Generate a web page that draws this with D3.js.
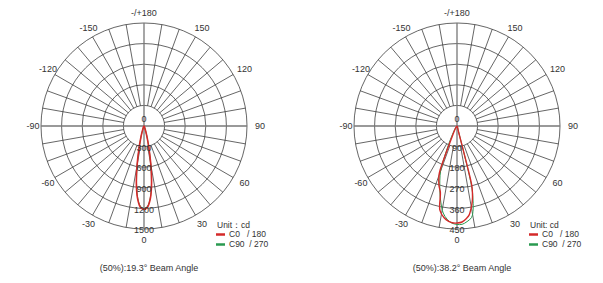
<!DOCTYPE html>
<html>
<head>
<meta charset="utf-8">
<script src="https://cdn.jsdelivr.net/npm/d3@7"></script>
<style>
  body { margin: 0; background: #fff; }
  text { font-family: Arial, "Liberation Sans", sans-serif; fill: #333; white-space: pre; }
</style>
</head>
<body>
<div id="chart"></div>
<script>

// angle ticks (deg), 0 at bottom, 90 on the right
var angleTicks = [0, 30, 60, 90, 120, 150, 180, -150, -120, -90, -60, -30];

// left diagram
var ringsLeft = [300, 600, 900, 1200, 1500];
var gammaLeft = [-90, -50, -40, -30, -25, -20, -17.5, -15, -12.5, -10, -7.5, -5, -2.5, 0, 2.5, 5, 7.5, 10, 12.5, 15, 17.5, 20, 25, 30, 40, 50, 90];
var leftC0   = [0, 2, 5, 12, 25, 55, 100, 185, 340, 580, 850, 1065, 1185, 1215, 1180, 1060, 845, 575, 335, 180, 95, 50, 22, 10, 4, 2, 0];
var leftC90  = [0, 2, 5, 11, 23, 52, 95, 180, 330, 570, 835, 1050, 1170, 1205, 1170, 1050, 835, 570, 330, 178, 95, 50, 20, 9, 4, 2, 0];
var beamLeft = "(50%):19.3° Beam Angle";

// right diagram
var ringsRight = [90, 180, 270, 360, 450];
var gammaRightC0 = [-90, -40, -30, -24, -22, -21, -20, -17, -14, -11.5, -8, -5, -2, 0, 3, 6, 7.7, 10, 11.7, 13, 14, 14.5, 15, 20, 30, 40, 90];
var rightC0      = [0, 5, 20, 60, 130, 205, 230, 270, 300, 375, 405, 418, 424, 424, 420, 405, 393, 360, 331, 300, 265, 100, 20, 8, 3, 1, 0];
var gammaRightC90 = [-90, -40, -30, -25, -22, -20, -15, -12, -9, -6, -3, 0, 3, 6, 9, 11, 12.5, 13.5, 14.3, 15, 20, 30, 40, 90];
var rightC90      = [0, 8, 30, 80, 150, 210, 290, 340, 385, 410, 425, 430, 430, 420, 405, 370, 320, 280, 150, 40, 10, 4, 1, 0];
var beamRight = "(50%):38.2° Beam Angle";

var width = 603, height = 283;
var R = 103, cy = 126;

var svg = d3.select("#chart").append("svg")
    .attr("width", width)
    .attr("height", height);

// d3 radial angle is clockwise from 12 o'clock, ours has 0 at 6 o'clock
var angle = d3.scaleLinear().domain([-180, 180]).range([2 * Math.PI, 0]);

function drawPolar(cx, rings, series, beamText, legendX, unitText) {

    var radius = d3.scaleLinear()
        .domain([0, rings[rings.length - 1]])
        .range([0, R]);

    var g = svg.append("g")
        .attr("transform", "translate(" + cx + "," + cy + ")");

    function pos(deg, r) {
        var a = angle(deg);
        return [r * Math.sin(a), -r * Math.cos(a)];
    }

    // spokes every 10 deg, outside the first ring
    d3.range(-170, 181, 10).forEach(function(d) {
        if (d % 90 == 0) return;
        var p0 = pos(d, radius(rings[0])), p1 = pos(d, R);
        g.append("line")
            .attr("x1", p0[0]).attr("y1", p0[1])
            .attr("x2", p1[0]).attr("y2", p1[1])
            .attr("stroke", "#333").attr("stroke-width", 0.75);
    });

    // rings
    g.selectAll(".ring")
        .data(rings)
        .enter().append("circle")
        .attr("class", "ring")
        .attr("r", function(d) { return radius(d); })
        .attr("fill", "none")
        .attr("stroke", "#333")
        .attr("stroke-width", 0.75);

    // main axes
    g.append("line").attr("x1", -R).attr("x2", R).attr("y1", 0).attr("y2", 0)
        .attr("stroke", "#777").attr("stroke-width", 1.3);
    g.append("line").attr("x1", 0).attr("x2", 0).attr("y1", -R).attr("y2", R)
        .attr("stroke", "#777").attr("stroke-width", 1.3);

    // curves
    var line = d3.lineRadial()
        .angle(function(d) { return angle(d[0]); })
        .radius(function(d) { return radius(d[1]); })
        .curve(d3.curveCatmullRom.alpha(0.5));

    series.forEach(function(s) {
        g.append("path")
            .datum(d3.zip(s.gamma, s.values))
            .attr("d", line)
            .attr("fill", "none")
            .attr("stroke", s.color)
            .attr("stroke-width", s.width);
    });

    // ring labels
    g.append("text").attr("x", 0).attr("y", -7).attr("text-anchor", "middle")
        .attr("dy", "0.35em").attr("font-size", 9).text("0");
    g.selectAll(".rlabel")
        .data(rings)
        .enter().append("text")
        .attr("class", "rlabel")
        .attr("x", 0)
        .attr("y", function(d) { return radius(d) + 1; })
        .attr("dy", "0.35em")
        .attr("text-anchor", "middle")
        .attr("font-size", 9)
        .text(function(d) { return d; });

    // angle labels
    g.selectAll(".alabel")
        .data(angleTicks)
        .enter().append("text")
        .attr("class", "alabel")
        .attr("x", function(d) { return pos(d, 113.5)[0] + 2.5 * Math.abs(Math.sin(angle(d))); })
        .attr("y", function(d) { return pos(d, 113.5)[1]; })
        .attr("dy", "0.35em")
        .attr("text-anchor", "middle")
        .attr("font-size", 9)
        .text(function(d) { return d == 180 ? "-/+180" : d; });

    // legend
    var lg = svg.append("g")
        .attr("transform", "translate(" + legendX + ",0)");
    lg.append("text").attr("x", 1).attr("y", 227.5).attr("font-size", 8.5)
        .text(unitText);
    var items = [["C0   / 180", "#d42a2a"], ["C90  / 270", "#2a9a50"]];
    items.forEach(function(it, i) {
        var y = 234.5 + i * 10;
        lg.append("line").attr("x1", 0).attr("x2", 9).attr("y1", y).attr("y2", y)
            .attr("stroke", it[1]).attr("stroke-width", 2.5);
        lg.append("text").attr("x", 13).attr("y", y).attr("dy", "0.35em")
            .attr("font-size", 8.5).text(it[0]);
    });

    // beam angle caption
    svg.append("text")
        .attr("x", cx + 5).attr("y", 268)
        .attr("dy", "0.35em")
        .attr("text-anchor", "middle")
        .attr("font-size", 9)
        .text(beamText);
}

drawPolar(144, ringsLeft, [
    { gamma: gammaLeft, values: leftC90, color: "#2a9a50", width: 1 },
    { gamma: gammaLeft, values: leftC0, color: "#d42a2a", width: 1.6 }
], beamLeft, 216, "Unit：cd");

drawPolar(457, ringsRight, [
    { gamma: gammaRightC90, values: rightC90, color: "#2a9a50", width: 1 },
    { gamma: gammaRightC0, values: rightC0, color: "#d42a2a", width: 1.4 }
], beamRight, 529, "Unit: cd");

</script>
</body>
</html>
